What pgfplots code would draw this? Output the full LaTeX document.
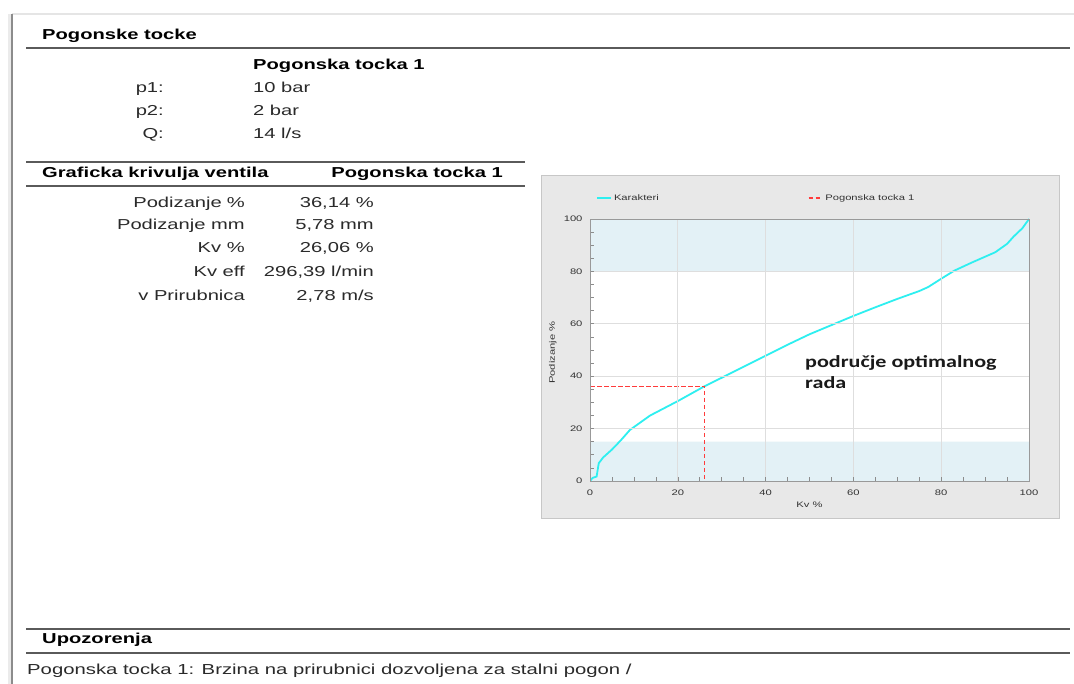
\documentclass[border=0pt]{standalone}
\usepackage{fontspec}
\setmainfont{Liberation Sans}[FakeStretch=1.4]
\newfontfamily\calfont{Carlito}[FakeStretch=1.3]
\usepackage{pgfplots}
\pgfplotsset{compat=1.18}
\definecolor{band}{HTML}{E3F1F6}
\definecolor{curve}{HTML}{2EEFF0}
\definecolor{pt}{HTML}{FF3B3B}
\definecolor{rule}{HTML}{5A5A5A}
\definecolor{txt}{HTML}{2A2A2A}
\begin{document}
\begin{tikzpicture}[x=1pt,y=-1pt,
  t/.style={inner sep=0pt, text=txt, font=\fontsize{14.4}{16}\selectfont},
  b/.style={inner sep=0pt, text=black, font=\fontsize{14.4}{16}\selectfont\bfseries}]
\useasboundingbox (0,0) rectangle (1074,684);
\fill[white] (0,0) rectangle (1074,684);
% page edges
\draw[black!10, line width=2pt] (12,14) -- (1074,14);
\draw[black!8, line width=3pt] (9,14) -- (9,684);
\draw[black!45, line width=1.5pt] (12,14) -- (12,684);
% section 1
\node[b, anchor=base west] at (42,39.5) {Pogonske tocke};
\draw[rule, line width=1.5pt] (26,48) -- (1070,48);
\node[b, anchor=base west] at (253,70) {Pogonska tocka 1};
\node[t, anchor=base east] at (164,93) {p1:};
\node[t, anchor=base west] at (253,93) {10 bar};
\node[t, anchor=base east] at (164,116) {p2:};
\node[t, anchor=base west] at (253,116) {2 bar};
\node[t, anchor=base east] at (164,139) {Q:};
\node[t, anchor=base west] at (253,139) {14 l/s};
% section 2
\draw[rule, line width=1.5pt] (26,162) -- (525,162);
\node[b, anchor=base west] at (42,178) {Graficka krivulja ventila};
\node[b, anchor=base east] at (503,178) {Pogonska tocka 1};
\draw[rule, line width=1.5pt] (26,186) -- (525,186);
\node[t, anchor=base east] at (245,208) {Podizanje\hspace{5pt}\%};
\node[t, anchor=base east] at (374,208) {36,14 \%};
\node[t, anchor=base east] at (245,230) {Podizanje mm};
\node[t, anchor=base east] at (374,230) {5,78 mm};
\node[t, anchor=base east] at (245,253) {Kv \%};
\node[t, anchor=base east] at (374,253) {26,06 \%};
\node[t, anchor=base east] at (245,277) {Kv eff};
\node[t, anchor=base east] at (374,277) {296,39 l/min};
\node[t, anchor=base east] at (245,301) {v Prirubnica};
\node[t, anchor=base east] at (374,301) {2,78 m/s};
% section 3
\draw[rule, line width=1.5pt] (26,629) -- (1070,629);
\node[b, anchor=base west] at (42,643) {Upozorenja};
\draw[rule, line width=1.5pt] (26,653) -- (1070,653);
\node[t, anchor=base west, font=\fontsize{14.5}{16}\selectfont] at (27,674) {Pogonska tocka 1: Brzina na prirubnici dozvoljena za stalni pogon /};
% chart panel
\filldraw[fill=black!9, draw=black!22, line width=1pt] (541,176) rectangle (1059,518);
\begin{axis}[
  at={(590pt,-481pt)}, anchor=south west,
  scale only axis, width=439pt, height=262pt,
  xmin=0, xmax=100, ymin=0, ymax=100,
  xtick={0,20,...,100}, ytick={0,20,...,100},
  minor tick num=3,
  axis background/.style={fill=white},
  grid=major, major grid style={draw=black!13, line width=0.8pt},
  axis line style={draw=black!40, line width=0.8pt},
  axis on top=true,
  tick align=inside, tick pos=left,
  major tick length=4pt, minor tick length=4pt,
  tick style={draw=black!45, line width=0.6pt},
  /pgf/number format/assume math mode=true,
  ticklabel style={font=\fontsize{8}{9}\selectfont, text=black!80},
  xticklabel style={yshift=-5pt},
  yticklabel style={xshift=-4pt},
  xlabel={Kv \%}, ylabel={Podizanje \%},
  label style={font=\fontsize{8}{9}\selectfont, text=black!80},
  xlabel style={at={(axis description cs:0.5,-0.092)}, anchor=center},
  ylabel style={at={(axis description cs:-0.085,0.49)}, anchor=center},
  legend style={at={(axis description cs:0.0137,1.08)}, anchor=west,
    draw=none, fill=none, inner sep=0pt,
    font=\fontsize{8}{9}\selectfont, text=black!80,
    legend columns=2,
    /tikz/every even column/.append style={column sep=147pt}},
  legend image code/.code={\draw[#1] (0pt,0pt) -- (14pt,0pt);},
]
\addplot[fill=band, draw=none, forget plot] coordinates {(0,80) (100,80) (100,100) (0,100) (0,80)};
\addplot[fill=band, draw=none, forget plot] coordinates {(0,0) (100,0) (100,15) (0,15) (0,0)};
\addplot[curve, line width=1.8pt] coordinates {
(0,0) (0.6,1.2) (1.5,1.7) (2.0,6.8) (3.0,9.0) (5,12.0) (7,15.5) (9.1,19.5)
(13.7,25.0) (20,30.5) (26.06,36.14) (30,39.4) (35,43.6) (40,47.8) (45,52.0)
(50,56.0) (55,59.5) (60,63.0) (65,66.3) (70,69.5) (75,72.5) (77,74.0)
(80,77.2) (83,80.3) (87,83.4) (92.3,87.3) (95,90.5) (96.5,93.3) (98.5,96.5) (100,100)};
\addplot[pt, line width=1.5pt, dash pattern=on 4.5pt off 2.5pt] coordinates {(0,36.14) (26.06,36.14) (26.06,0)};
\legend{Karakteri, Pogonska tocka 1}
\end{axis}
\node[anchor=base west, inner sep=0pt, text=black!90, font=\calfont\bfseries\fontsize{17}{20}\selectfont] at (805,368) {područje optimalnog};
\node[anchor=base west, inner sep=0pt, text=black!90, font=\calfont\bfseries\fontsize{17}{20}\selectfont] at (805,389) {rada};
\end{tikzpicture}
\end{document}
